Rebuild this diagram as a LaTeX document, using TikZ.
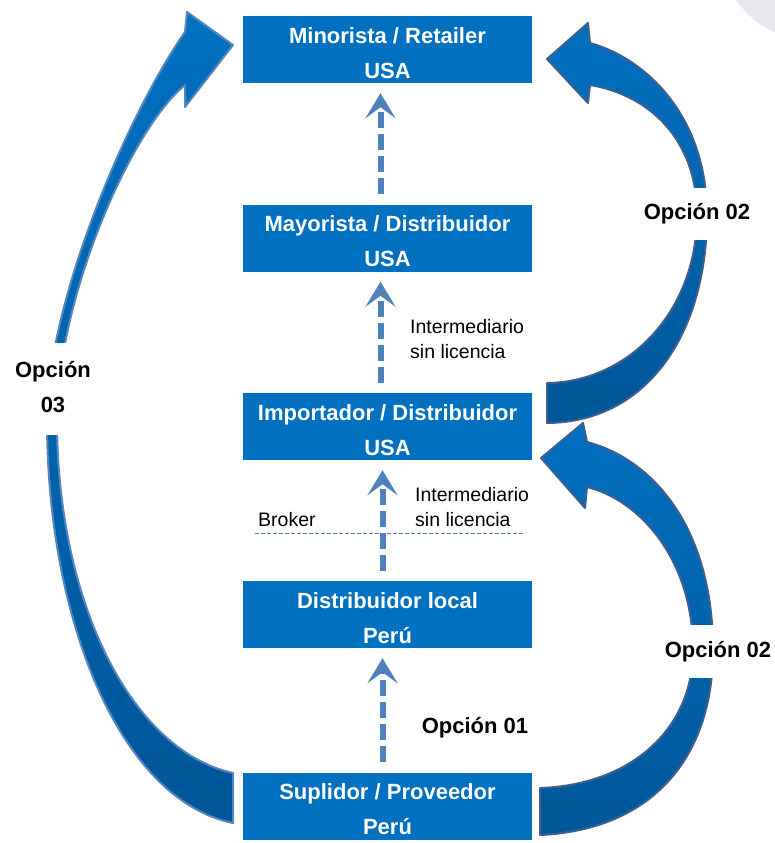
\documentclass[tikz,border=0pt]{standalone}
\usepackage{fontspec}
\setmainfont{Liberation Sans}
\usetikzlibrary{arrows.meta}

\definecolor{boxblue}{RGB}{0,112,192}
\definecolor{darkblue}{RGB}{0,86,152}
\definecolor{edgeblue}{RGB}{62,96,144}
\definecolor{glowblue}{RGB}{86,134,192}
\definecolor{dashblue}{RGB}{79,129,189}
\definecolor{blobgrey}{RGB}{232,232,238}

\begin{document}
\begin{tikzpicture}[x=1pt,y=-1pt,
  box/.style={fill=boxblue, text=white, minimum width=289pt, minimum height=67pt,
    inner sep=0pt, align=center, text height=57pt, text depth=0pt,
    font=\bfseries\fontsize{22}{35}\selectfont},
  dasharrow/.style={draw=dashblue, line width=6pt, dash pattern=on 16pt off 6pt,
    -{Stealth[length=25pt,width=30pt,inset=11pt]}, shorten <=10pt, shorten >=10pt},
  bigarrow/.style={draw=edgeblue, line width=2pt, line join=round,
    top color=boxblue, bottom color=darkblue},
  option/.style={fill=white, inner sep=2pt, align=center,
    font=\bfseries\fontsize{22}{35}\selectfont},
  note/.style={inner sep=0pt, align=left, font=\fontsize{19.5}{25}\selectfont}]

\useasboundingbox (0,0) rectangle (774,843);
\fill[blobgrey] (812,-52) circle (92);

% Boxes
\node[box] (mino) at (387.5,49.5) {Minorista / Retailer\\USA};
\node[box] (mayo) at (387.5,238) {Mayorista / Distribuidor\\USA};
\node[box] (impo) at (387.5,426.5) {Importador / Distribuidor\\USA};
\node[box] (dloc) at (387.5,614.5) {Distribuidor local\\Perú};
\node[box] (supl) at (387.5,806) {Suplidor / Proveedor\\Perú};

% Chain of intermediaries
\draw[dasharrow] ([xshift=-7pt]mayo.north) -- ([xshift=-7pt]mino.south);
\draw[dasharrow] ([xshift=-7pt]impo.north) -- ([xshift=-7pt]mayo.south);
\draw[dasharrow] ([xshift=-5pt]dloc.north) -- ([xshift=-5pt]impo.south);
\draw[dasharrow] ([xshift=-5pt]supl.north) -- ([xshift=-5pt]dloc.south);

\node[note, anchor=base west] (int1) at (410,358) {Intermediario\\sin licencia};
\node[note, anchor=base west] (int2) at (415,526) {Intermediario\\sin licencia};
\node[note, anchor=base west] (brok) at (258,526) {Broker};
\draw[dashblue, line width=0.6pt, dash pattern=on 4pt off 2pt] (255,533) -- (525,533);

% Option 03
\path[bigarrow, draw=glowblue] (233,823) .. controls (120,800) and (47,620) .. (47,420)
  .. controls (47,300) and (130,110) .. (185,32) -- (187,12) -- (233,45) -- (185,107)
  -- (185,85) .. controls (130,130) and (57,300) .. (57,420)
  .. controls (57,600) and (130,750) .. (233,773) -- cycle;

% Option 02, upper
\path[bigarrow] (547,423) .. controls (650,422) and (707,330) .. (707,215)
  .. controls (707,120) and (650,60) .. (590,43) -- (588,23) -- (547,59) -- (588,103)
  -- (590,85) .. controls (650,95) and (697,140) .. (697,215)
  .. controls (697,310) and (630,382) .. (547,383) -- cycle;

% Option 02, lower
\path[bigarrow] (540,835) .. controls (650,830) and (713,760) .. (713,650)
  .. controls (713,530) and (655,460) .. (587,442) -- (583,423) -- (541,458) -- (585,508)
  -- (587,487) .. controls (640,500) and (693,560) .. (693,650)
  .. controls (693,730) and (630,785) .. (540,788) -- cycle;

% Option labels
\node[option, minimum height=92pt, text height=46pt, text depth=0pt] (op3) at (53,389) {Opción\\03};
\node[option, minimum height=52pt] (op2a) at (697,214) {Opción 02};
\node[option, minimum height=53pt] (op2b) at (718,651.5) {Opción 02};
\node[font=\bfseries\fontsize{22}{35}\selectfont, anchor=base] (op1) at (475,733) {Opción 01};

\end{tikzpicture}
\end{document}
